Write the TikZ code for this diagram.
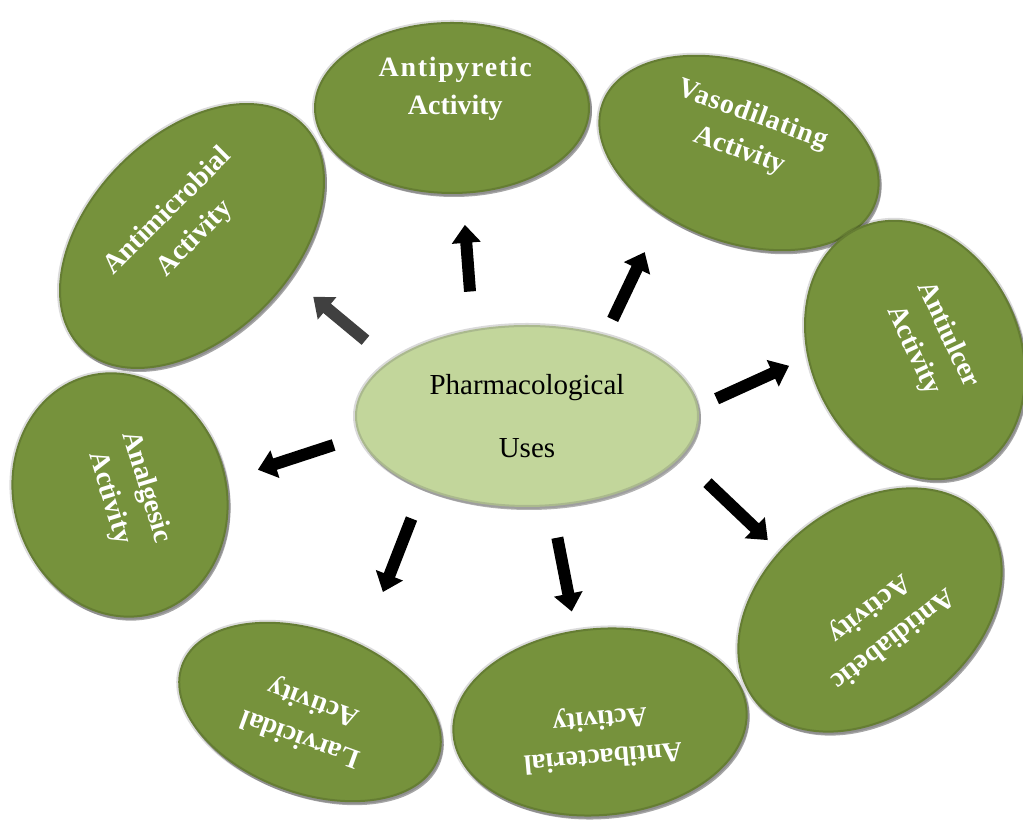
\documentclass[tikz,border=0pt]{standalone}
\usepackage{fontspec}
\setmainfont{Liberation Serif}
\usetikzlibrary{shapes.geometric,arrows.meta,calc,shadows}
\definecolor{activitygreen}{RGB}{118,146,60}
\definecolor{usesgreen}{RGB}{194,214,155}
\begin{document}
\begin{tikzpicture}
[ x=1pt, y=1pt
, activity/.style={ellipse, inner sep=0pt, fill=activitygreen,
    drop shadow={shadow xshift=2pt, shadow yshift=-3pt, opacity=.35, fill=black},
    postaction={draw=black, draw opacity=.14, line width=4pt}}
, activitytext/.style={align=center, text=white,
    font=\bfseries\fontsize{28}{38}\selectfont}
, usesnode/.style={ellipse, inner sep=0pt, fill=usesgreen,
    minimum width=344pt, minimum height=182pt,
    drop shadow={shadow xshift=2pt, shadow yshift=-3pt, opacity=.3, fill=black},
    postaction={draw=black!60, draw opacity=.25, line width=4pt},
    align=center, font=\fontsize{29}{33}\selectfont}
, blockarrow/.style={line width=12pt, -{Triangle[length=18pt, width=28pt]}}
]

\useasboundingbox (0,0) rectangle (1023,826);

\node[usesnode] (uses) at (527,410) {Pharmacological\\[30pt]Uses};

\node[activity, minimum width=276pt, minimum height=172pt] (antipyretic) at (452,718) {};
\node[activity, minimum width=292pt, minimum height=180pt, rotate=-20] (vasodilating) at (739,673) {};
\node[activity, minimum width=316pt, minimum height=204pt, rotate=45] (antimicrobial) at (192,590) {};
\node[activity, minimum width=270pt, minimum height=210pt, rotate=-65] (antiulcer) at (915,476) {};
\node[activity, minimum width=248pt, minimum height=214pt, rotate=-73] (analgesic) at (120,331) {};
\node[activity, minimum width=274pt, minimum height=164pt, rotate=160] (larvicidal) at (310,114) {};
\node[activity, minimum width=296pt, minimum height=188pt, rotate=185] (antibacterial) at (600,104) {};
\node[activity, minimum width=294pt, minimum height=210pt, rotate=218] (antidiabetic) at (870,216) {};

\node[activitytext] (antipyretic-text) at ($(antipyretic)+(80:19)$) {\addfontfeature{LetterSpace=6}Antipyretic\\Activity};
\node[activitytext, rotate=-20] (vasodilating-text) at ($(vasodilating)+(70:21)$) {\addfontfeature{LetterSpace=3}Vasodilating\\Activity};
\node[activitytext, rotate=45] (antimicrobial-text) at ($(antimicrobial)+(135:15)$) {Antimicrobial\\Activity};
\node[activitytext, rotate=-65] (antiulcer-text) at ($(antiulcer)+(25:17)$) {Antiulcer\\Activity};
\node[activitytext, rotate=-73] (analgesic-text) at ($(analgesic)+(17:8)$) {Analgesic\\Activity};
\node[activitytext, rotate=160] (larvicidal-text) at ($(larvicidal)+(250:8)$) {Larvicidal\\Activity};
\node[activitytext, rotate=185] (antibacterial-text) at ($(antibacterial)+(275:15)$) {Antibacterial\\Activity};
\node[activitytext, rotate=218] (antidiabetic-text) at ($(antidiabetic)+(308:17)$) {Antidiabetic\\Activity};

\draw[blockarrow, shorten <=38pt, shorten >=31pt] (uses.122) -- (antipyretic.277);
\draw[blockarrow, shorten <=17pt, shorten >=41pt] (uses.46) -- (vasodilating.-121);
\draw[blockarrow, black!75, shorten <=32pt, shorten >=30pt] (uses.158) -- (antimicrobial.-68);
\draw[blockarrow, shorten <=20pt, shorten >=20pt] (uses.3) -- (antiulcer.-111);
\draw[blockarrow, shorten <=27pt, shorten >=33pt] (uses.187) -- (analgesic.81);
\draw[blockarrow, shorten <=32pt, shorten >=57pt] (uses.215) -- (larvicidal.252);
\draw[blockarrow, shorten <=32pt, shorten >=19pt] (uses.285) -- (antibacterial.-80);
\draw[blockarrow, shorten <=37pt, shorten >=16pt] (uses.345) -- (antidiabetic.-71);

\end{tikzpicture}
\end{document}
